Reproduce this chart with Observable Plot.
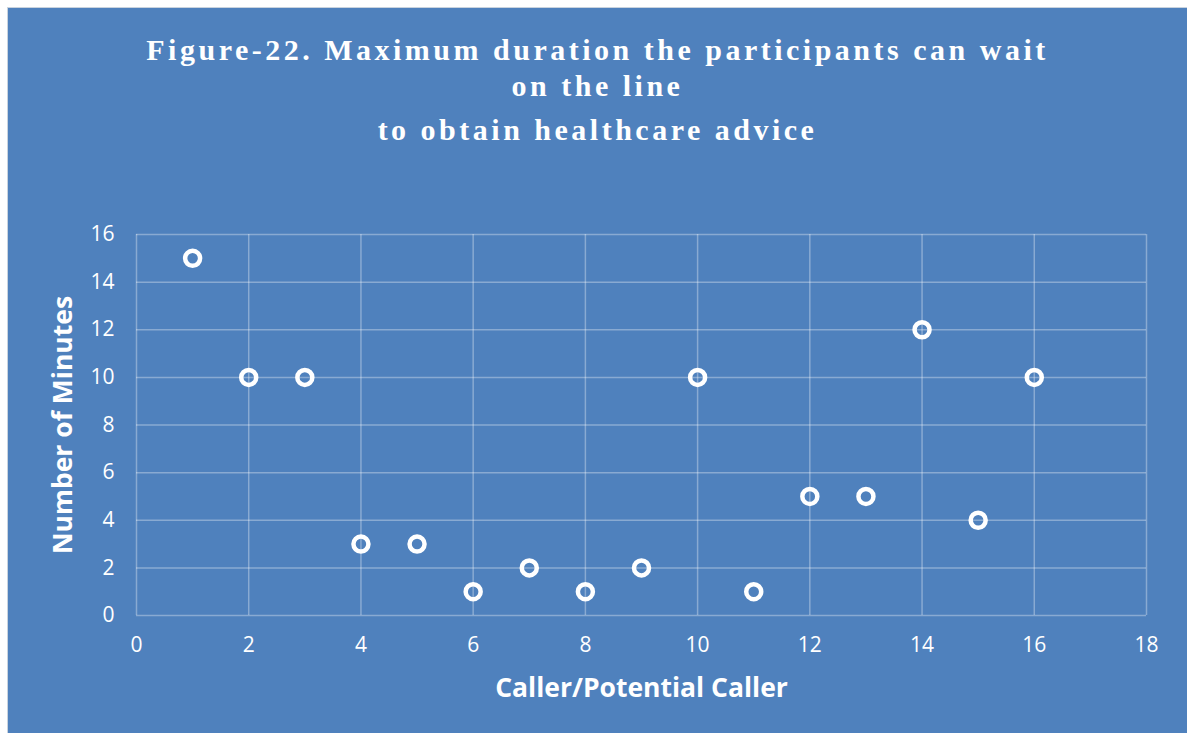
<!DOCTYPE html>
<html>
<head>
<meta charset="utf-8">
<script src="https://cdn.jsdelivr.net/npm/d3@7"></script>
<script src="https://cdn.jsdelivr.net/npm/@observablehq/plot@0.6"></script>
<style>
  html, body { margin: 0; padding: 0; background: #ffffff; }
  #panel { position: absolute; left: 7px; top: 7px; width: 1179px; height: 725px; background: #4F81BD; border: 1px solid #c9d3de; border-right: none; border-bottom: none; }
  #title { position: absolute; left: 0; width: 1179px; top: 24px; text-align: center; color: #ffffff;
           font-family: "Liberation Serif", "DejaVu Serif", serif; font-weight: bold; font-size: 30px; letter-spacing: 3.5px; }
  #title div { white-space: nowrap; }
  #chart { position: absolute; left: 0; top: 192px; }
</style>
</head>
<body>
<div id="panel">
  <div id="title">
    <div style="line-height:36px">Figure-22. Maximum duration the participants can wait</div>
    <div style="line-height:36px">on the line</div>
    <div style="line-height:36px;margin-top:8px">to obtain healthcare advice</div>
  </div>
  <div id="chart"></div>
</div>
<script>
const callers = [1, 2, 3, 4, 5, 6, 7, 8, 9, 10, 11, 12, 13, 14, 15, 16];
const minutes = [15, 10, 10, 3, 3, 1, 2, 1, 2, 10, 1, 5, 5, 12, 4, 10];
const xTicks = [0, 2, 4, 6, 8, 10, 12, 14, 16, 18];
const yTicks = [0, 2, 4, 6, 8, 10, 12, 14, 16];
const xLabel = "Caller/Potential Caller";
const yLabel = "Number of Minutes";

const data = callers.map((c, i) => ({caller: c, minutes: minutes[i]}));

const chart = Plot.plot({
  width: 1179,
  height: 520,
  marginLeft: 128,
  marginRight: 41,
  marginTop: 34,
  marginBottom: 105,
  style: {background: "transparent", color: "#ffffff", fontFamily: "'Open Sans', sans-serif", fontSize: "21px"},
  x: {domain: [0, 18]},
  y: {domain: [0, 16]},
  marks: [
    Plot.gridX(xTicks, {stroke: "#ffffff", strokeOpacity: 0.33, strokeWidth: 1.5}),
    Plot.gridY(yTicks, {stroke: "#ffffff", strokeOpacity: 0.33, strokeWidth: 1.5}),
    Plot.axisX(xTicks, {tickSize: 0, tickPadding: 22, label: null, fill: "#ffffff", tickFormat: d => String(d)}),
    Plot.axisY(yTicks, {tickSize: 0, tickPadding: 22, label: null, fill: "#ffffff", tickFormat: d => String(d)}),
    Plot.dot(data, {x: "caller", y: "minutes", r: 7.5, stroke: "#ffffff", strokeWidth: 4.5, fill: "none"}),
    Plot.text([xLabel], {frameAnchor: "bottom", dy: 73, text: d => d, fill: "#ffffff", fontSize: 26.5, fontWeight: "bold", lineAnchor: "middle", textAnchor: "middle"}),
    Plot.text([yLabel], {frameAnchor: "left", dx: -73, rotate: -90, text: d => d, fill: "#ffffff", fontSize: 26.5, fontWeight: "bold", lineAnchor: "middle", textAnchor: "middle"})
  ]
});
document.getElementById("chart").appendChild(chart);
</script>
</body>
</html>
